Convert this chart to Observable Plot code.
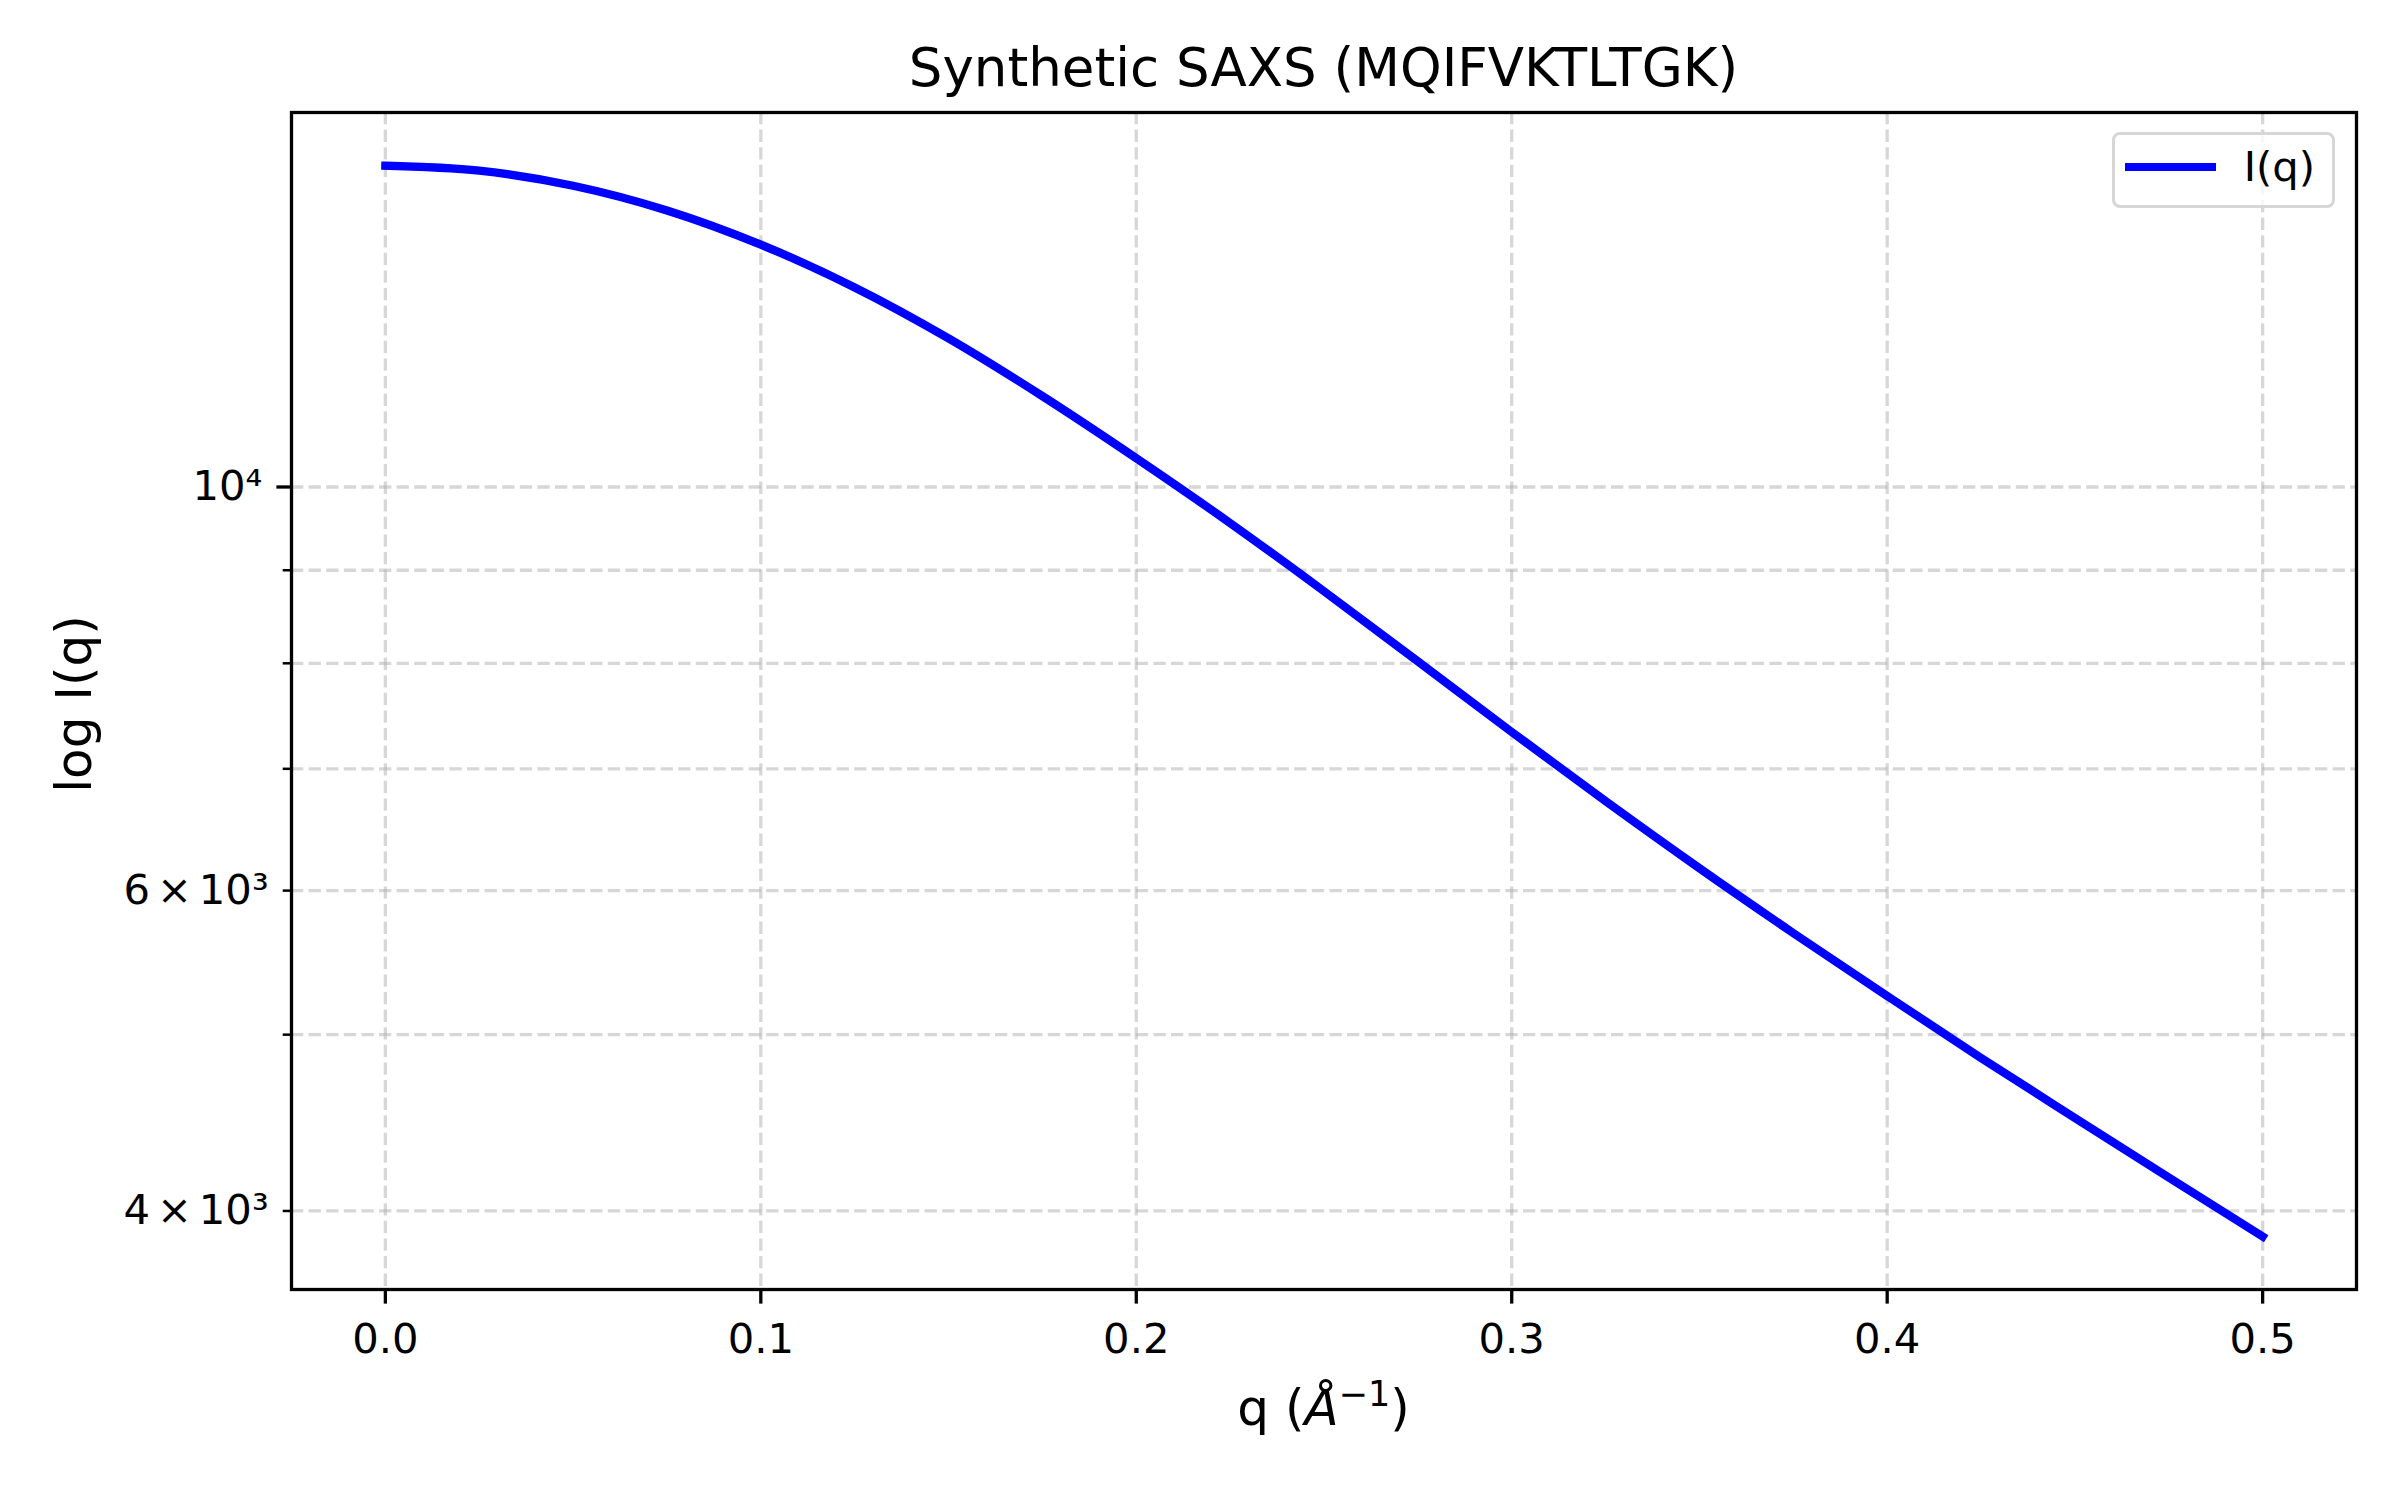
<!DOCTYPE html>
<html>
<head>
<meta charset="utf-8">
<script src="https://cdn.jsdelivr.net/npm/d3@7"></script>
<script src="https://cdn.jsdelivr.net/npm/@observablehq/plot@0.6"></script>
<style>
  html, body { margin: 0; padding: 0; background: #fff; }
  #fig { position: relative; width: 2400px; height: 1500px; overflow: hidden; font-family: "DejaVu Sans", sans-serif; color: #000; background: #fff; }
  #title { position: absolute; left: 291px; width: 2065px; top: 37px; font-size: 53px; line-height: 62px; text-align: center; white-space: nowrap; }
  #plot { position: absolute; left: 0; top: 100px; }
  #xlabel { position: absolute; left: 291px; width: 2065px; top: 1379px; font-size: 50px; line-height: 58px; text-align: center; white-space: nowrap; }
  #xlabel .it { font-style: italic; }
  #xlabel .sup { font-size: 35px; position: relative; top: -19px; }
  #ylabel { position: absolute; left: -126px; top: 675px; width: 400px; height: 58px; font-size: 50px; line-height: 58px; text-align: center; white-space: nowrap; transform: rotate(-90deg); transform-origin: 50% 50%; }
  #legend { position: absolute; left: 2112px; top: 132px; width: 223px; height: 76px; box-sizing: border-box; border: 3.3px solid #d6d6d6; border-radius: 8px; background: rgba(255,255,255,0.8); }
  #legend-line { position: absolute; left: 10.4px; top: 28.2px; width: 91px; height: 8.3px; background: #0000ff; }
  #legend-text { position: absolute; left: 128.7px; top: 7.7px; font-size: 41.7px; line-height: 48.5px; white-space: nowrap; }
</style>
</head>
<body>
<div id="fig">
  <div id="title"></div>
  <div id="plot"></div>
  <div id="ylabel"></div>
  <div id="xlabel"></div>
  <div id="legend"><div id="legend-line"></div><div id="legend-text"></div></div>
</div>
<script>
// ---- data ----
const qValues = [0, 0.025, 0.05, 0.075, 0.10, 0.125, 0.15, 0.175, 0.20, 0.225, 0.25, 0.275, 0.30, 0.325, 0.35, 0.375, 0.40, 0.425, 0.45, 0.475, 0.50];
const intensity = [15018, 14924, 14642, 14191, 13590, 12874, 12070, 11219, 10371, 9554, 8764, 8019, 7334, 6719, 6172, 5686, 5251, 4855, 4500, 4173, 3873];

const xTicks = [0, 0.1, 0.2, 0.3, 0.4, 0.5];
const yMajorTicks = [10000];
const yLabeledMinorTicks = [4000, 6000];
const yMinorTicks = [5000, 7000, 8000, 9000];
const yGridTicks = [4000, 5000, 6000, 7000, 8000, 9000, 10000];

const titleText = "Synthetic SAXS (MQIFVKTLTGK)";
const yLabelText = "log I(q)";
const seriesLabel = "I(q)";

// ---- build ----
const data = qValues.map((q, i) => ({q, I: intensity[i]}));

const supDigits = {"0":"⁰","1":"¹","2":"²","3":"³","4":"⁴","5":"⁵","6":"⁶","7":"⁷","8":"⁸","9":"⁹","-":"⁻"};
const fmtY = v => {
  const e = Math.floor(Math.log10(v) + 1e-9);
  const m = Math.round(v / Math.pow(10, e));
  const ex = String(e).split("").map(c => supDigits[c]).join("");
  return m === 1 ? `10${ex}` : `${m}\u2006×\u200610${ex}`;
};

const gridStyle = {stroke: "#b0b0b0", strokeOpacity: 0.5, strokeWidth: 3.3, strokeDasharray: "12.3,5.3"};

const chart = Plot.plot({
  width: 2400,
  height: 1270,
  marginTop: 12,
  marginBottom: 81,
  marginLeft: 291,
  marginRight: 44,
  style: {fontFamily: "DejaVu Sans", fontSize: "41.7px", color: "black", background: "white", overflow: "visible"},
  x: {domain: [-0.025, 0.525]},
  y: {type: "log", domain: [3621.5, 16064]},
  marks: [
    Plot.gridX(xTicks, gridStyle),
    Plot.gridY(yGridTicks, gridStyle),
    Plot.line(data, {x: "q", y: "I", stroke: "#0000ff", strokeWidth: 8.33, curve: "catmull-rom", strokeLinecap: "square", strokeLinejoin: "round"}),
    Plot.axisX(xTicks, {tickSize: 14.6, tickPadding: 19, strokeWidth: 3.3, tickFormat: d3.format(".1f"), label: null, fontSize: 41.7}),
    Plot.axisY(yMajorTicks, {tickSize: 14.6, tickPadding: 14.6, strokeWidth: 3.3, tickFormat: fmtY, label: null, fontSize: 41.7}),
    Plot.axisY(yLabeledMinorTicks, {tickSize: 8.3, tickPadding: 14.6, strokeWidth: 2.5, tickFormat: fmtY, label: null, fontSize: 41.7}),
    Plot.axisY(yMinorTicks, {tickSize: 8.3, tickPadding: 14.6, strokeWidth: 2.5, tickFormat: () => "", label: null}),
    Plot.frame({stroke: "black", strokeWidth: 3.3})
  ]
});

document.getElementById("plot").appendChild(chart);
document.getElementById("title").textContent = titleText;
document.getElementById("ylabel").textContent = yLabelText;
document.getElementById("xlabel").innerHTML = 'q (<span class="it">Å</span><span class="sup">−1</span>)';
document.getElementById("legend-text").textContent = seriesLabel;
</script>
</body>
</html>
